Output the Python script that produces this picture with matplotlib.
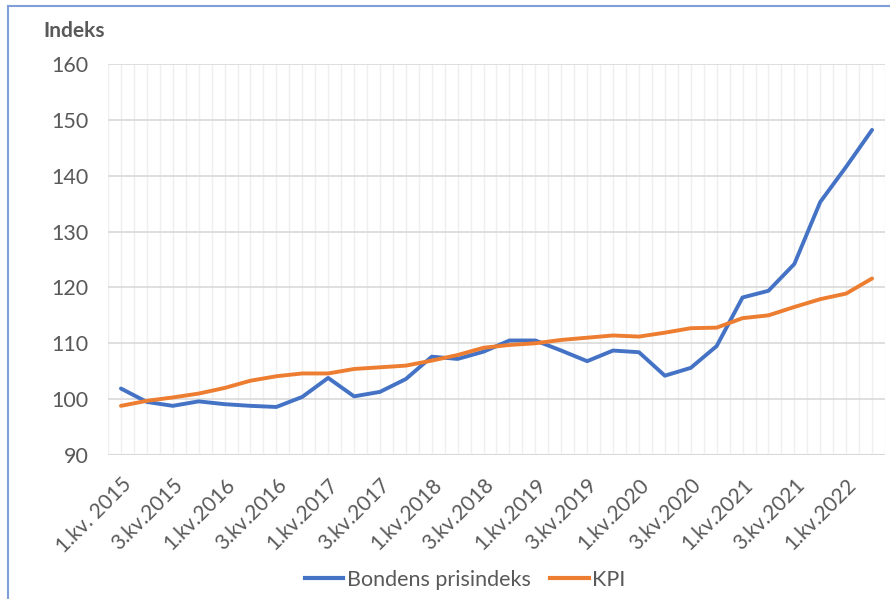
import matplotlib.pyplot as plt
from matplotlib.patches import Rectangle
from matplotlib.lines import Line2D

plt.rcParams['font.family'] = ['Lato', 'DejaVu Sans']

# Kvartal 1.kv.2015 - 2.kv.2022
quarters = [f"{q}.kv.{y}" for y in range(2015, 2023) for q in range(1, 5)][:30]
quarters[0] = "1.kv. 2015"

bondens = [101.9, 99.5, 98.8, 99.6, 99.1, 98.8, 98.6, 100.4, 103.8, 100.5,
           101.3, 103.6, 107.6, 107.2, 108.5, 110.5, 110.5, 108.7, 106.8, 108.7,
           108.4, 104.2, 105.6, 109.5, 118.2, 119.4, 124.2, 135.3, 141.6, 148.2]
kpi = [98.8, 99.7, 100.3, 101.0, 102.0, 103.3, 104.1, 104.6, 104.6, 105.4,
       105.7, 106.0, 106.9, 107.9, 109.2, 109.7, 110.0, 110.6, 111.0, 111.4,
       111.2, 111.9, 112.7, 112.8, 114.5, 115.0, 116.5, 117.9, 118.9, 121.6]

txt = '#595959'
blue = '#4472C4'
orange = '#ED7D31'

fig = plt.figure(figsize=(8.9, 5.99), dpi=100)
ax = fig.add_axes([108/890, 1 - 455/599, (885 - 108)/890, (455 - 64)/599])

x = list(range(len(quarters)))
ax.plot(x, bondens, color=blue, lw=2.8, solid_capstyle='round', solid_joinstyle='round', zorder=3)
ax.plot(x, kpi, color=orange, lw=2.8, solid_capstyle='round', solid_joinstyle='round', zorder=3)

ax.set_xlim(-0.5, len(quarters) - 0.5)
ax.set_ylim(90, 160)
ax.set_yticks(range(90, 161, 10))

# vertikale rutenett (to per kvartal)
for i in range(2 * len(quarters) + 1):
    ax.axvline(-0.5 + i * 0.5, color='#EFEFEF', lw=1, zorder=0)
ax.yaxis.grid(True, color='#D9D9D9', lw=1.2)
ax.set_axisbelow(True)

for s in ax.spines.values():
    s.set_visible(False)
ax.axhline(90, color='#D9D9D9', lw=1.5, zorder=1)

ax.set_xticks(x[::2])
ax.set_xticklabels(quarters[::2], rotation=45, ha='right', rotation_mode='anchor',
                   fontsize=15, color=txt)
ax.tick_params(axis='x', length=0, pad=14)
ax.tick_params(axis='y', length=0, pad=14, labelsize=15.5, labelcolor=txt)

fig.text(43/890, 1 - 31/599, "Indeks", fontsize=15, fontweight='bold', color=txt,
         va='center', ha='left')

handles = [Line2D([0], [0], color=blue, lw=3), Line2D([0], [0], color=orange, lw=3)]
fig.legend(handles, ["Bondens prisindeks", "KPI"], loc='center',
           bbox_to_anchor=(465/890, 1 - 580/599), ncol=2, frameon=False,
           fontsize=15.5, labelcolor=txt, handlelength=1.8, handletextpad=0.15,
           columnspacing=0.9)

# ramme rundt diagrammet
fig.patches.append(Rectangle((8/890, -0.1), 1.0, 1 - 6/599 + 0.1, transform=fig.transFigure,
                             fill=False, edgecolor='#7F9FD6', lw=1.5))

plt.savefig("out.png", dpi=100)
